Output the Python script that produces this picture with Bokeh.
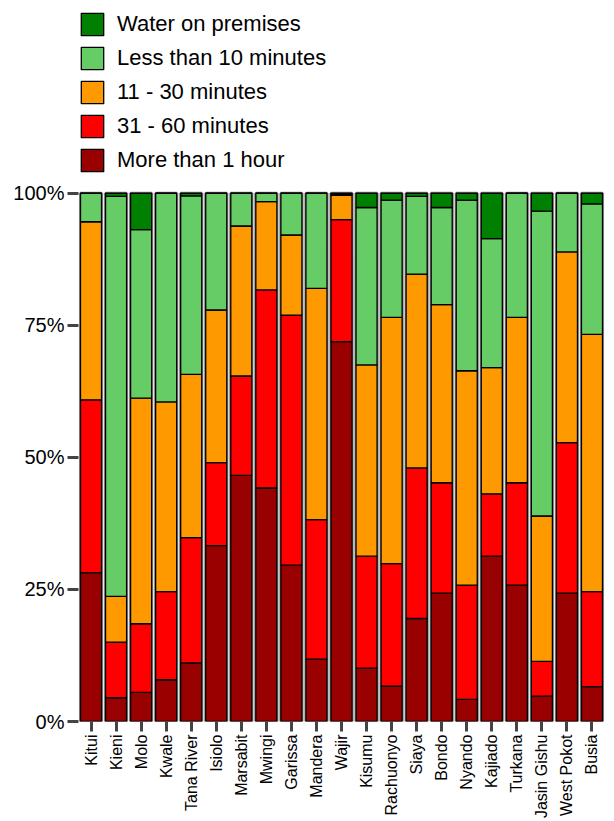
import math
from bokeh.plotting import figure
from bokeh.models import Legend, LegendItem, FixedTicker, NumeralTickFormatter, Range1d, FactorRange
from bokeh.embed import file_html
from bokeh.resources import INLINE

districts = ["Kitui", "Kieni", "Molo", "Kwale", "Tana River", "Isiolo", "Marsabit",
             "Mwingi", "Garissa", "Mandera", "Wajir", "Kisumu", "Rachuonyo", "Siaya",
             "Bondo", "Nyando", "Kajiado", "Turkana", "Jasin Gishu", "West Pokot", "Busia"]

more_than_1h = [28.2, 4.5, 5.5, 7.9, 11.1, 33.3, 46.6, 44.2, 29.6, 11.8, 71.9,
                10.1, 6.7, 19.5, 24.3, 4.2, 31.3, 25.8, 4.8, 24.3, 6.6]
min_31_60 = [32.7, 10.5, 13.0, 16.7, 23.7, 15.7, 18.8, 37.5, 47.3, 26.4, 23.1,
             21.2, 23.2, 28.5, 20.9, 21.6, 11.8, 19.4, 6.6, 28.5, 18.0]
min_11_30 = [33.7, 8.7, 42.7, 35.9, 30.9, 28.9, 28.4, 16.7, 15.2, 43.8, 4.6,
             36.2, 46.6, 36.7, 33.7, 40.6, 23.9, 31.3, 27.5, 36.1, 48.7]
less_10 = [5.4, 75.7, 31.9, 39.5, 33.8, 22.1, 6.2, 1.6, 7.9, 18.0, 0.2,
           29.8, 22.2, 14.7, 18.4, 32.3, 24.4, 23.5, 57.7, 11.1, 24.7]
on_premises = [0.0, 0.6, 6.9, 0.0, 0.5, 0.0, 0.0, 0.0, 0.0, 0.0, 0.2,
               2.7, 1.3, 0.6, 2.7, 1.3, 8.6, 0.0, 3.4, 0.0, 2.0]

series_keys = ["more", "s3160", "s1130", "less10", "prem"]
series_labels = ["More than 1 hour", "31 - 60 minutes", "11 - 30 minutes",
                 "Less than 10 minutes", "Water on premises"]
colors = ["#990000", "#ff0000", "#ff9900", "#66cc66", "#008000"]
y_ticks = [0, 0.25, 0.5, 0.75, 1.0]

values = [more_than_1h, min_31_60, min_11_30, less_10, on_premises]
data = {"district": districts}
for k, v in zip(series_keys, values):
    data[k] = [x / 100.0 for x in v]
data["total"] = [sum(col) / 100.0 for col in zip(*values)]

# frame spans from canvas y=10 to y=722; 100% sits at y=193
FRAME_TOP = 10
FRAME_BOTTOM = 722
y_max = (FRAME_BOTTOM - FRAME_TOP) / (FRAME_BOTTOM - 193)

p = figure(x_range=FactorRange(*districts), y_range=Range1d(0, y_max),
           width=614, height=821, output_backend="svg", toolbar_location=None,
           min_border_left=78, min_border_right=10, min_border_top=FRAME_TOP,
           min_border_bottom=821 - FRAME_BOTTOM)
p.x_range.range_padding = 0

W = 0.84
p.vbar(x="district", top="total", bottom=0, width=W, source=data,
       fill_color=None, line_color="#8a8a8a", line_width=3.2)
renderers = p.vbar_stack(series_keys, x="district", width=W, source=data,
                         color=colors, line_color="black", line_width=1.3)
for r in renderers:
    r.glyph.line_color = "black"

items = [LegendItem(label=lab, renderers=[r]) for lab, r in zip(series_labels, renderers)]
items = items[::-1]
legend = Legend(items=items, location="top_left", orientation="vertical",
                glyph_width=28, glyph_height=28, label_height=22, spacing=6,
                padding=0, margin=0, label_standoff=11,
                label_text_font="Liberation Sans", label_text_font_size="22px",
                label_text_color="black", border_line_color=None,
                background_fill_alpha=0)
p.add_layout(legend, "center")

p.xgrid.grid_line_color = None
p.ygrid.grid_line_color = None
p.outline_line_color = None
p.background_fill_color = "white"

p.yaxis.ticker = FixedTicker(ticks=y_ticks)
p.yaxis.formatter = NumeralTickFormatter(format="0%")
p.yaxis.major_label_text_font = "Liberation Sans"
p.yaxis.major_label_text_font_size = "20px"
p.yaxis.major_label_text_color = "black"
p.yaxis.major_tick_out = 11
p.yaxis.major_tick_in = 0
p.yaxis.major_tick_line_width = 3
p.yaxis.major_tick_line_color = "#444444"
p.yaxis.minor_tick_line_color = None
p.yaxis.axis_line_color = None
p.yaxis.major_label_standoff = 3

p.xaxis.major_label_orientation = math.pi / 2
p.xaxis.major_label_text_font = "Liberation Sans"
p.xaxis.major_label_text_font_size = "16px"
p.xaxis.major_label_text_color = "black"
p.xaxis.major_tick_out = 10
p.xaxis.major_tick_in = 0
p.xaxis.major_tick_line_width = 3
p.xaxis.major_tick_line_color = "#444444"
p.xaxis.axis_line_color = None
p.xaxis.major_label_standoff = 3

open("out.html", "w").write(file_html(p, INLINE))
